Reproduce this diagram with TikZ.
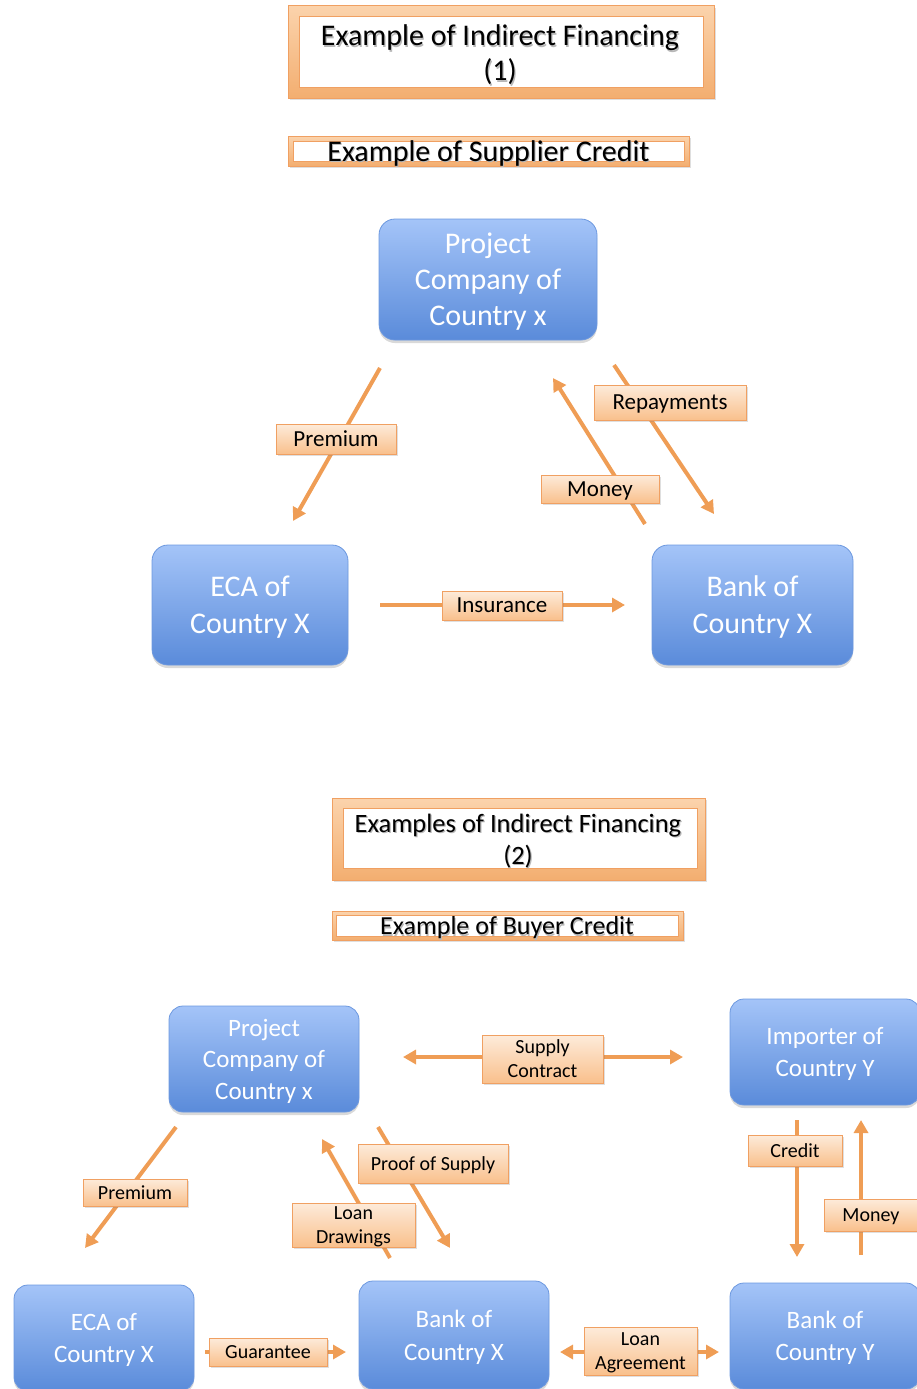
\documentclass[tikz,border=0pt]{standalone}
\usepackage{fontspec}
\setmainfont{Carlito}
\usetikzlibrary{arrows.meta,shadows}

\definecolor{bluetop}{HTML}{A4C4F8}
\definecolor{bluebot}{HTML}{5A8BDA}
\definecolor{blueedge}{HTML}{6C98DF}
\definecolor{peachtop}{HTML}{FDEBDA}
\definecolor{peachbot}{HTML}{F9C08C}
\definecolor{peachedge}{HTML}{F0A062}
\definecolor{arrowor}{HTML}{EF9D55}
\definecolor{frametop}{HTML}{FBD3AC}
\definecolor{framebot}{HTML}{F3AE70}

\newcommand\fsz[2]{\fontsize{#1}{#2}\selectfont}

\tikzset{
  party/.style={rectangle, rounded corners=16pt, top color=bluetop, bottom color=bluebot,
    draw=blueedge, line width=0.8pt, text=white, align=center, inner sep=0pt, text depth=0pt,
    drop shadow={shadow xshift=0pt, shadow yshift=-3pt, opacity=0.3}},
  tag/.style={rectangle, top color=peachtop, bottom color=peachbot, draw=peachedge,
    line width=1pt, align=center, inner sep=0pt, text depth=0pt,
    drop shadow={shadow xshift=1.5pt, shadow yshift=-1.5pt, opacity=0.25}},
  flow/.style={draw=arrowor, line width=4pt, -{Triangle[length=13pt,width=14pt]}},
  twoway/.style={draw=arrowor, line width=4pt,
    {Triangle[length=13pt,width=14pt]}-{Triangle[length=13pt,width=14pt]}},
  outerframe/.style={rectangle, top color=frametop, bottom color=framebot, draw=peachedge,
    line width=1pt, inner sep=0pt,
    drop shadow={shadow xshift=1.5pt, shadow yshift=-2pt, opacity=0.25}},
  innerframe/.style={rectangle, fill=white, draw=peachedge, line width=1pt, inner sep=0pt},
  heading/.style={align=center, inner sep=0pt},
  headshadow/.style={heading, text=black!28},
}

\begin{document}
\begin{tikzpicture}[x=1pt,y=-1pt]
\useasboundingbox (0,0) rectangle (916,1389);

% ---------- Indirect financing (1): supplier credit ----------
\node[outerframe, minimum width=426pt, minimum height=92pt] (t1out) at (501,52) {};
\node[innerframe, minimum width=404pt, minimum height=70pt] (t1in) at (501,52) {};
\node[headshadow, font=\fsz{30}{35}] (t1sh) at (501.2,56.2) {Example of Indirect Financing\\(1)};
\node[heading, font=\fsz{30}{35}] (t1) at (500,54.5) {Example of Indirect Financing\\(1)};

\node[outerframe, minimum width=401pt, minimum height=30pt] (s1out) at (488.5,151) {};
\node[innerframe, minimum width=391pt, minimum height=20pt] (s1in) at (488.5,151) {};
\node[headshadow, font=\fsz{30}{35}] (s1sh) at (489.5,155) {Example of Supplier Credit};
\node[heading, font=\fsz{30}{35}] (s1) at (488.5,153.5) {Example of Supplier Credit};

\node[party, minimum width=218pt, minimum height=121pt, font=\fsz{30}{36}] (proj1) at (488,279.5)
  {Project\\Company of\\Country x};
\node[party, minimum width=196pt, minimum height=120pt, font=\fsz{30}{37}] (eca1) at (250,605)
  {ECA of\\Country X};
\node[party, minimum width=201pt, minimum height=120pt, font=\fsz{30}{37}] (bank1) at (752.5,605)
  {Bank of\\Country X};

\coordinate (prem1a) at (380,368);
\coordinate (prem1b) at (293,521);
\coordinate (mon1a) at (645,524);
\coordinate (mon1b) at (553,378);
\coordinate (rep1a) at (614,365);
\coordinate (rep1b) at (714,514);
\coordinate (ins1a) at (380,605);
\coordinate (ins1b) at (625,605);

\draw[flow] (prem1a) -- (prem1b);
\draw[flow] (mon1a) -- (mon1b);
\draw[flow] (rep1a) -- (rep1b);
\draw[flow] (ins1a) -- (ins1b);

\node[tag, minimum width=120pt, minimum height=30pt, font=\fsz{23}{28}] (lprem1) at (336,439) {Premium};
\node[tag, minimum width=118pt, minimum height=28pt, font=\fsz{23}{28}] (lmon1) at (600,489) {Money};
\node[tag, minimum width=152pt, minimum height=35pt, font=\fsz{23}{28}] (lrep1) at (670,402.5) {Repayments};
\node[tag, minimum width=120pt, minimum height=29pt, font=\fsz{23}{28}] (lins1) at (502,605.5) {Insurance};

% ---------- Indirect financing (2): buyer credit ----------
\node[outerframe, minimum width=373pt, minimum height=82pt] (t2out) at (518.5,839) {};
\node[innerframe, minimum width=354pt, minimum height=60pt] (t2in) at (520,838) {};
\node[headshadow, font=\fsz{26.5}{32}] (t2sh) at (519.2,842.5) {Examples of Indirect Financing\\(2)};
\node[heading, font=\fsz{26.5}{32}] (t2) at (518,841) {Examples of Indirect Financing\\(2)};

\node[outerframe, minimum width=351pt, minimum height=29pt] (s2out) at (507.5,925.5) {};
\node[innerframe, minimum width=342pt, minimum height=21pt] (s2in) at (507,925.5) {};
\node[headshadow, font=\fsz{26}{31}] (s2sh) at (508,929.5) {Example of Buyer Credit};
\node[heading, font=\fsz{26}{31}] (s2) at (507,928) {Example of Buyer Credit};

\node[party, rounded corners=14pt, minimum width=190pt, minimum height=106pt, font=\fsz{25}{31.5}] (proj2) at (264,1059)
  {Project\\Company of\\Country x};
\node[party, rounded corners=14pt, minimum width=190pt, minimum height=106pt, font=\fsz{25}{32}] (imp2) at (825,1052)
  {Importer of\\Country Y};
\node[party, rounded corners=14pt, minimum width=180pt, minimum height=106pt, font=\fsz{25}{32}] (eca2) at (104,1338)
  {ECA of\\Country X};
\node[party, rounded corners=14pt, minimum width=190pt, minimum height=108pt, font=\fsz{25}{33}] (bankx2) at (454,1335)
  {Bank of\\Country X};
\node[party, rounded corners=14pt, minimum width=190pt, minimum height=106pt, font=\fsz{25}{32}] (banky2) at (825,1336)
  {Bank of\\Country Y};

\coordinate (supa) at (403,1057);
\coordinate (supb) at (683,1057);
\coordinate (prem2a) at (176,1127);
\coordinate (prem2b) at (85,1248);
\coordinate (ldra) at (390,1258);
\coordinate (ldrb) at (322,1139);
\coordinate (pfsa) at (378,1127);
\coordinate (pfsb) at (450,1248);
\coordinate (cra) at (797,1120);
\coordinate (crb) at (797,1257);
\coordinate (mon2a) at (861,1255);
\coordinate (mon2b) at (861,1120);
\coordinate (guaa) at (205,1352);
\coordinate (guab) at (346,1352);
\coordinate (laga) at (560,1352);
\coordinate (lagb) at (719,1352);

\draw[twoway] (supa) -- (supb);
\draw[flow] (prem2a) -- (prem2b);
\draw[flow] (ldra) -- (ldrb);
\draw[flow] (pfsa) -- (pfsb);
\draw[flow] (cra) -- (crb);
\draw[flow] (mon2a) -- (mon2b);
\draw[flow] (guaa) -- (guab);
\draw[twoway] (laga) -- (lagb);

\node[tag, minimum width=121pt, minimum height=48pt, font=\fsz{20}{24}] (lsup) at (542.5,1059) {Supply\\Contract};
\node[tag, minimum width=104pt, minimum height=27pt, font=\fsz{20}{24}] (lprem2) at (135,1192.5) {Premium};
\node[tag, minimum width=123pt, minimum height=44pt, font=\fsz{20}{24}] (lldr) at (353.5,1225) {Loan\\Drawings};
\node[tag, minimum width=150pt, minimum height=39pt, font=\fsz{20}{24}] (lpfs) at (433,1163.5) {Proof of Supply};
\node[tag, minimum width=94pt, minimum height=31pt, font=\fsz{20}{24}] (lcr) at (795,1150.5) {Credit};
\node[tag, minimum width=94pt, minimum height=32pt, font=\fsz{20}{24}] (lmon2) at (871,1215) {Money};
\node[tag, minimum width=118pt, minimum height=28pt, font=\fsz{20}{24}] (lgua) at (268,1352) {Guarantee};
\node[tag, minimum width=113pt, minimum height=48pt, font=\fsz{20}{24}] (llag) at (640.5,1351) {Loan\\Agreement};

\end{tikzpicture}
\end{document}
